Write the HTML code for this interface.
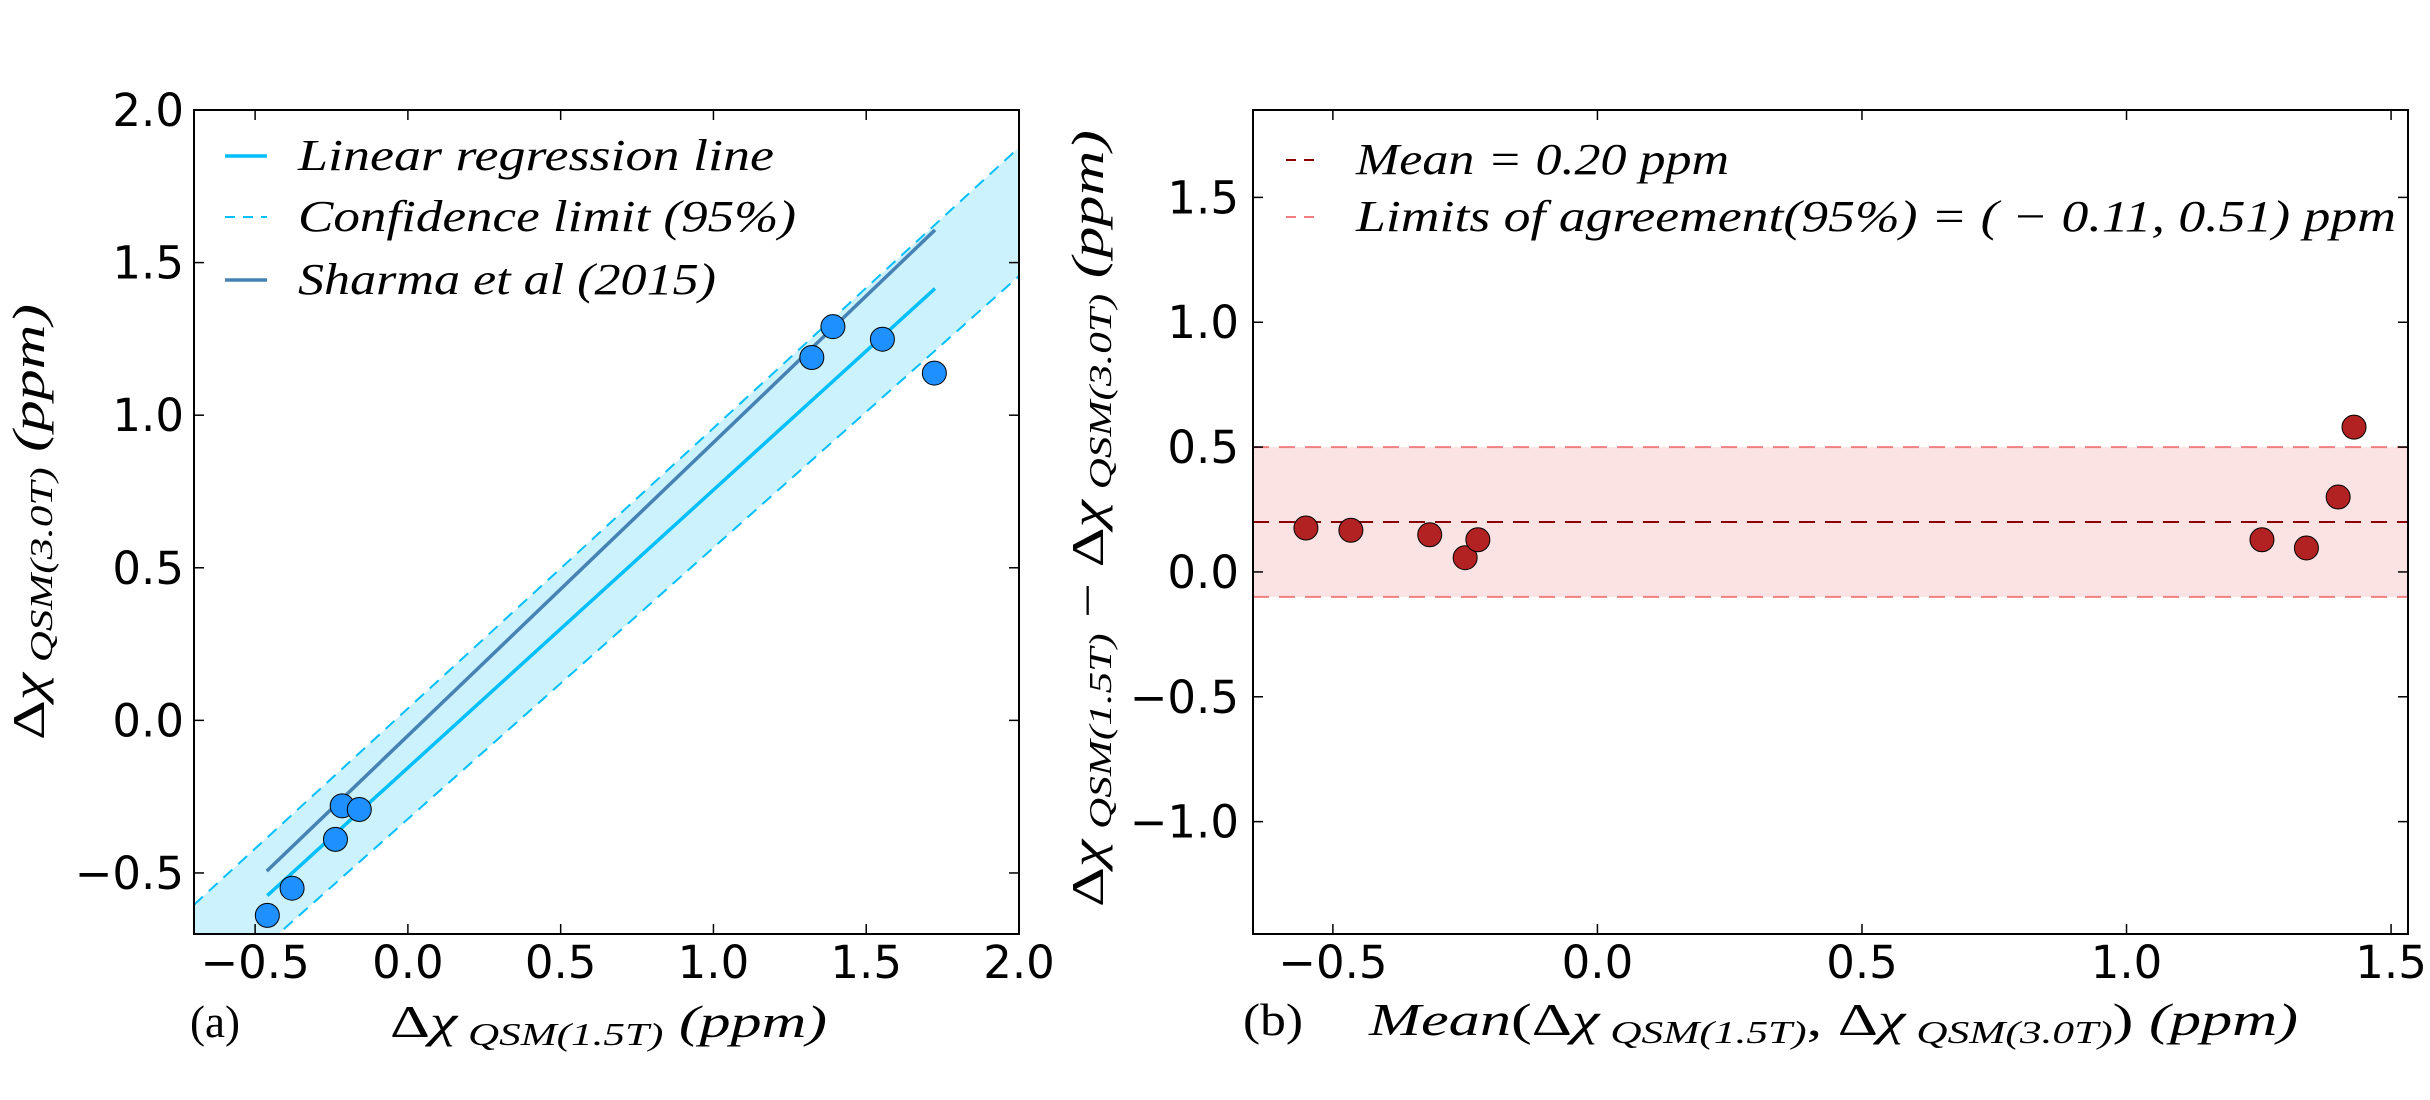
<!DOCTYPE html>
<html><head><meta charset="utf-8"><style>
html,body{margin:0;padding:0;background:#fff;}
svg{display:block;}
.tick{font-family:"DejaVu Sans","Liberation Sans",sans-serif;font-size:45px;fill:#000;}
.serif{font-family:"Liberation Serif","DejaVu Serif",serif;fill:#000;}
</style></head><body>
<svg id="fig" width="2430" height="1100" viewBox="0 0 2430 1100" xmlns="http://www.w3.org/2000/svg">
<g id="pa"></g>
<g id="pb"></g>
</svg>
<script>
// ---- Panel (a) data ----
const aX = [-0.46, -0.379, -0.237, -0.215, -0.159, 1.391, 1.322, 1.553, 1.723];
const aY = [-0.639, -0.55, -0.39, -0.28, -0.292, 1.29, 1.189, 1.249, 1.138];
const regX = [-0.46, 1.725];
const regY = [-0.574, 1.415];
const sharmaX = [-0.462, 1.725];
const sharmaY = [-0.494, 1.607];
const bandX = [-0.7, 0.6, 2.0];
const bandUpper = [-0.604, 0.59, 1.877];
const bandLower = [-0.945, 0.21, 1.456];
const aTicks = [-0.5, 0.0, 0.5, 1.0, 1.5, 2.0];
const aTickLabels = ["\u22120.5", "0.0", "0.5", "1.0", "1.5", "2.0"];
// ---- Panel (b) data ----
const bX = [-0.551, -0.466, -0.317, -0.250, -0.226, 1.256, 1.34, 1.40, 1.43];
const bY = [0.176, 0.167, 0.149, 0.057, 0.129, 0.129, 0.096, 0.30, 0.58];
const bMean = [0.20];
const bLimits = [-0.10, 0.50];
const bXTicks = [-0.5, 0.0, 0.5, 1.0, 1.5];
const bXTickLabels = ["\u22120.5", "0.0", "0.5", "1.0", "1.5"];
const bYTicks = [-1.0, -0.5, 0.0, 0.5, 1.0, 1.5];
const bYTickLabels = ["\u22121.0", "\u22120.5", "0.0", "0.5", "1.0", "1.5"];

const NS = "http://www.w3.org/2000/svg";
function mk(parent, tag, attrs){ const e=document.createElementNS(NS,tag); for(const k in attrs) e.setAttribute(k,attrs[k]); parent.appendChild(e); return e; }

// axes geometry
const A = {x0:194, x1:1019, y0:110, y1:934, xmin:-0.7, xmax:2.0, ymin:-0.7, ymax:2.0};
const B = {x0:1253, x1:2408, y0:110, y1:934, xmin:-0.651, xmax:1.532, ymin:-1.45, ymax:1.85};
function sx(ax,v){ return ax.x0 + (v-ax.xmin)/(ax.xmax-ax.xmin)*(ax.x1-ax.x0); }
function sy(ax,v){ return ax.y1 - (v-ax.ymin)/(ax.ymax-ax.ymin)*(ax.y1-ax.y0); }

// ===== Panel A =====
const pa = document.getElementById('pa');
mk(mk(pa,'defs',{}),'clipPath',{id:'clipA'}).appendChild(document.createElementNS(NS,'rect'));
document.querySelector('#clipA rect').setAttribute('x',A.x0);
document.querySelector('#clipA rect').setAttribute('y',A.y0);
document.querySelector('#clipA rect').setAttribute('width',A.x1-A.x0);
document.querySelector('#clipA rect').setAttribute('height',A.y1-A.y0);
const ga = mk(pa,'g',{'clip-path':'url(#clipA)'});
let pts = bandX.map((x,i)=>sx(A,x)+','+sy(A,bandUpper[i]));
pts = pts.concat(bandX.slice().reverse().map((x,j)=>{const i=bandX.length-1-j; return sx(A,x)+','+sy(A,bandLower[i]);}));
const band = mk(ga,'polygon',{points:pts.join(' '),fill:'#ccf2fe',stroke:'none'});


const up = mk(ga,'polyline',{points:bandX.map((x,i)=>sx(A,x)+','+sy(A,bandUpper[i])).join(' '),fill:'none',stroke:'#00bfff','stroke-width':2,'stroke-dasharray':'12,8'});


const lo = mk(ga,'polyline',{points:bandX.map((x,i)=>sx(A,x)+','+sy(A,bandLower[i])).join(' '),fill:'none',stroke:'#00bfff','stroke-width':2,'stroke-dasharray':'12,8'});


const sh = mk(ga,'line',{x1:sx(A,sharmaX[0]),y1:sy(A,sharmaY[0]),x2:sx(A,sharmaX[1]),y2:sy(A,sharmaY[1]),stroke:'#4682b4','stroke-width':3.5});


const rg = mk(ga,'line',{x1:sx(A,regX[0]),y1:sy(A,regY[0]),x2:sx(A,regX[1]),y2:sy(A,regY[1]),stroke:'#00bfff','stroke-width':3.5});


aX.forEach((x,i)=>{
  const c = mk(ga,'ellipse',{cx:sx(A,x),cy:sy(A,aY[i]),rx:12,ry:12,fill:'#1e90ff',stroke:'#000','stroke-width':1});
  
  
});
const frameA = mk(pa,'rect',{x:A.x0,y:A.y0,width:A.x1-A.x0,height:A.y1-A.y0,fill:'none',stroke:'#000','stroke-width':2});


aTicks.forEach((v,i)=>{
  const X = sx(A,v);
  if (v < A.xmax) { mk(pa,'line',{x1:X,y1:A.y1,x2:X,y2:A.y1-10,stroke:'#000','stroke-width':1.5}); mk(pa,'line',{x1:X,y1:A.y0,x2:X,y2:A.y0+10,stroke:'#000','stroke-width':1.5}); }
  const t = mk(pa,'text',{x:X,y:A.y1+44,'text-anchor':'middle',class:'tick'}); t.textContent=aTickLabels[i];
  
  
  const Y = sy(A,v);
  if (v < A.ymax) { mk(pa,'line',{x1:A.x0,y1:Y,x2:A.x0+10,y2:Y,stroke:'#000','stroke-width':1.5}); mk(pa,'line',{x1:A.x1,y1:Y,x2:A.x1-10,y2:Y,stroke:'#000','stroke-width':1.5}); }
  const ty = mk(pa,'text',{x:A.x0-10,y:Y+16,'text-anchor':'end',class:'tick'}); ty.textContent=aTickLabels[i];
  
  
});
// legend A
const legA = mk(pa,'g',{});


[['Linear regression line','#00bfff',null,156,476],['Confidence limit (95%)','#00bfff','10,8',217,498],['Sharma et al (2015)','#4682b4',null,280,418]].forEach((r,i)=>{
  const l = mk(legA,'line',{x1:225,y1:r[3],x2:267,y2:r[3],stroke:r[1],'stroke-width':r[2]?2:3.5});
  if(r[2]) l.setAttribute('stroke-dasharray',r[2]);
  const t = mk(legA,'text',{x:298,y:r[3]+14,class:'serif','font-size':44,'font-style':'italic',textLength:r[4],lengthAdjust:'spacingAndGlyphs'});
  t.textContent=r[0];
  
  
});

// ===== Panel B =====
const pb = document.getElementById('pb');
const bandB = mk(pb,'rect',{x:B.x0,y:sy(B,bLimits[1]),width:B.x1-B.x0,height:sy(B,bLimits[0])-sy(B,bLimits[1]),fill:'#fbe3e4'});


bLimits.forEach(v=>{
  const l = mk(pb,'line',{x1:B.x0,y1:sy(B,v),x2:B.x1,y2:sy(B,v),stroke:'#f08080','stroke-width':2,'stroke-dasharray':'16,10'});
  
  
});
const ml = mk(pb,'line',{x1:B.x0,y1:sy(B,bMean[0]),x2:B.x1,y2:sy(B,bMean[0]),stroke:'#8b0000','stroke-width':2,'stroke-dasharray':'16,10'});


bX.forEach((x,i)=>{
  const c = mk(pb,'ellipse',{cx:sx(B,x),cy:sy(B,bY[i]),rx:12,ry:12,fill:'#b22222',stroke:'#000','stroke-width':1});
  
  
});
const frameB = mk(pb,'rect',{x:B.x0,y:B.y0,width:B.x1-B.x0,height:B.y1-B.y0,fill:'none',stroke:'#000','stroke-width':2});


bXTicks.forEach((v,i)=>{
  const X = sx(B,v);
  mk(pb,'line',{x1:X,y1:B.y1,x2:X,y2:B.y1-10,stroke:'#000','stroke-width':1.5});
  mk(pb,'line',{x1:X,y1:B.y0,x2:X,y2:B.y0+10,stroke:'#000','stroke-width':1.5});
  const t = mk(pb,'text',{x:X,y:B.y1+44,'text-anchor':'middle',class:'tick'}); t.textContent=bXTickLabels[i];
  
  
});
bYTicks.forEach((v,i)=>{
  const Y = sy(B,v);
  mk(pb,'line',{x1:B.x0,y1:Y,x2:B.x0+10,y2:Y,stroke:'#000','stroke-width':1.5});
  mk(pb,'line',{x1:B.x1,y1:Y,x2:B.x1-10,y2:Y,stroke:'#000','stroke-width':1.5});
  const t = mk(pb,'text',{x:B.x0-14,y:Y+16,'text-anchor':'end',class:'tick'}); t.textContent=bYTickLabels[i];
  
  
});
const legB = mk(pb,'g',{});


[['Mean = 0.20 ppm','#8b0000',160,373],['Limits of agreement(95%) = ( \u2212 0.11,  0.51) ppm','#f08080',217,1040]].forEach(r=>{
  mk(legB,'line',{x1:1286,y1:r[2],x2:1322,y2:r[2],stroke:r[1],'stroke-width':2,'stroke-dasharray':'10,8'});
  const t = mk(legB,'text',{x:1356,y:r[2]+14,class:'serif','font-size':44,'font-style':'italic',textLength:r[3],lengthAdjust:'spacingAndGlyphs'});
  t.textContent=r[0];
  
  
});
</script>
<svg width="0" height="0" style="position:absolute"></svg>
<div style="position:absolute;left:0;top:0;width:2430px;height:1100px;pointer-events:none">
<svg width="2430" height="1100" viewBox="0 0 2430 1100" style="position:absolute;left:0;top:0">
  <text class="serif" x="190" y="1037" font-size="46" textLength="50" lengthAdjust="spacingAndGlyphs">(a)</text>
  <text class="serif" x="390" y="1037" font-size="46" textLength="437" lengthAdjust="spacingAndGlyphs">Δ<tspan font-style="italic">χ</tspan><tspan font-style="italic" font-size="32" dy="8"> QSM(1.5T)</tspan><tspan font-style="italic" dy="-8"> (ppm)</tspan></text>
  <text class="serif" x="0" y="0" font-size="46" textLength="436" lengthAdjust="spacingAndGlyphs" transform="translate(44,740) rotate(-90)">Δ<tspan font-style="italic">χ</tspan><tspan font-style="italic" font-size="32" dy="8"> QSM(3.0T)</tspan><tspan font-style="italic" dy="-8">  (ppm)</tspan></text>
  <text class="serif" x="1243" y="1035" font-size="46" textLength="60" lengthAdjust="spacingAndGlyphs">(b)</text>
  <text class="serif" x="1369" y="1035" font-size="46" textLength="929" lengthAdjust="spacingAndGlyphs"><tspan font-style="italic">Mean</tspan>(Δ<tspan font-style="italic">χ</tspan><tspan font-style="italic" font-size="32" dy="8"> QSM(1.5T)</tspan><tspan dy="-8">, Δ</tspan><tspan font-style="italic">χ</tspan><tspan font-style="italic" font-size="32" dy="8"> QSM(3.0T)</tspan><tspan dy="-8">) </tspan><tspan font-style="italic">(ppm)</tspan></text>
  <text class="serif" x="0" y="0" font-size="46" textLength="777" lengthAdjust="spacingAndGlyphs" transform="translate(1103,907) rotate(-90)">Δ<tspan font-style="italic">χ</tspan><tspan font-style="italic" font-size="32" dy="8"> QSM(1.5T)</tspan><tspan dy="-8"> − Δ</tspan><tspan font-style="italic">χ</tspan><tspan font-style="italic" font-size="32" dy="8"> QSM(3.0T)</tspan><tspan font-style="italic" dy="-8">  (ppm)</tspan></text>
</svg>
</div>
</body></html>
